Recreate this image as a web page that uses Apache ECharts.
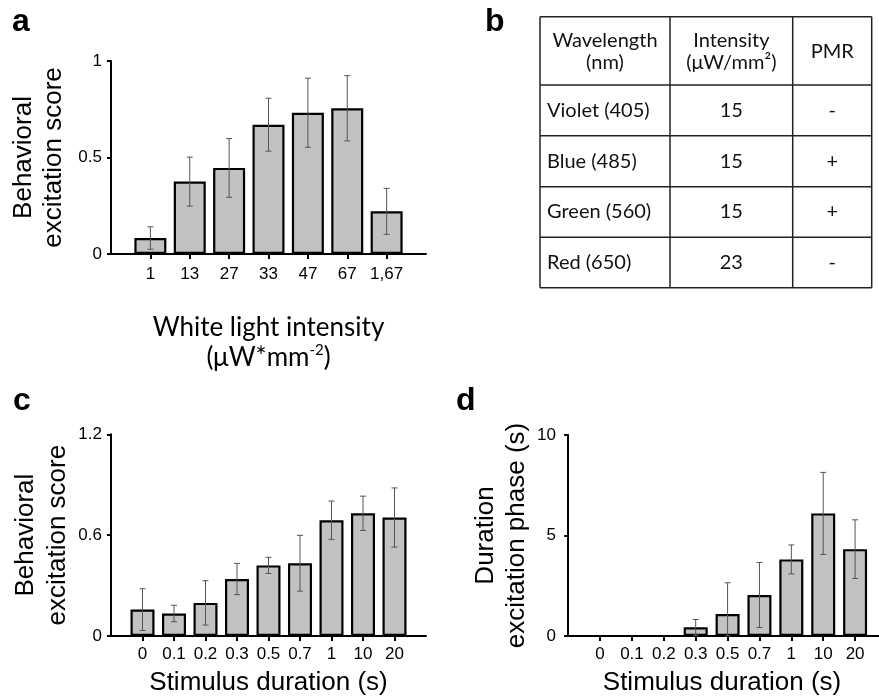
<!DOCTYPE html>
<html>
<head>
<meta charset="utf-8">
<script src="https://cdn.jsdelivr.net/npm/echarts@6/dist/echarts.min.js"></script>
<style>
html,body{margin:0;padding:0;background:#fff;}
#main{width:879px;height:697px;}
</style>
</head>
<body>
<div id="main"></div>
<script>
// ---- data ----
const aCats = ['1', '13', '27', '33', '47', '67', '1,67'];
const aMean = [0.083, 0.375, 0.446, 0.670, 0.732, 0.755, 0.221];
const aErr  = [0.058, 0.127, 0.152, 0.137, 0.179, 0.169, 0.119];
const aYTicks = [0, 0.5, 1];

const cdCats = ['0', '0.1', '0.2', '0.3', '0.5', '0.7', '1', '10', '20'];
const cMean = [0.157, 0.134, 0.197, 0.339, 0.420, 0.433, 0.689, 0.730, 0.705];
const cErr  = [0.124, 0.049, 0.132, 0.093, 0.048, 0.166, 0.114, 0.102, 0.176];
const cYTicks = [0, 0.6, 1.2];

const dMean = [0, 0, 0, 0.43, 1.09, 2.04, 3.81, 6.10, 4.32];
const dErr  = [0, 0, 0, 0.39, 1.56, 1.62, 0.72, 2.04, 1.46];
const dYTicks = [0, 5, 10];

const tableHeader = ['Wavelength\n(nm)', 'Intensity\n(μW/mm²)', 'PMR'];
const tableRows = [
  ['Violet (405)', '15', '-'],
  ['Blue (485)', '15', '+'],
  ['Green (560)', '15', '+'],
  ['Red (650)', '23', '-']
];
const panelLetters = ['a', 'b', 'c', 'd'];

// ---- helpers ----
const SANS = 'Liberation Sans, Arial, sans-serif';
const GILL = 'Lato, Open Sans, sans-serif';

function makePanel(idx, cats, mean, err, yTicks, cfg) {
  const positions = cats.map((c, k) => k + 1);
  const xAxis = {
    type: 'value', gridIndex: idx, min: cfg.xMin, max: cfg.xMax,
    splitLine: {show: false},
    axisLine: {show: true, onZero: false, lineStyle: {color: '#000', width: 2}},
    axisTick: {show: true, customValues: positions, length: 5, lineStyle: {color: '#000', width: 2}},
    axisLabel: {show: true, customValues: positions, margin: cfg.xLabelMargin,
      fontSize: 17, fontFamily: SANS, color: '#000',
      formatter: v => cats[Math.round(v) - 1]},
    name: cfg.xName, nameLocation: 'middle', nameGap: cfg.xNameGap,
    nameTextStyle: cfg.xNameStyle
  };
  const yAxis = {
    type: 'value', gridIndex: idx, min: yTicks[0], max: yTicks[yTicks.length - 1],
    interval: yTicks[1] - yTicks[0],
    splitLine: {show: false},
    axisLine: {show: true, lineStyle: {color: '#000', width: 2}},
    axisTick: {show: true, length: 4, lineStyle: {color: '#000', width: 2}},
    axisLabel: {fontSize: 17, fontFamily: SANS, color: '#000', margin: 9},
    name: cfg.yName, nameLocation: 'middle', nameRotate: 90, nameGap: cfg.yNameGap,
    nameTextStyle: {fontSize: 26, lineHeight: cfg.yLineHeight, fontFamily: SANS, color: '#000'}
  };
  const bars = {
    type: 'bar', xAxisIndex: idx, yAxisIndex: idx,
    barWidth: cfg.barWidth,
    data: mean.map((m, k) => [positions[k], m]),
    itemStyle: {color: '#c2c2c2', borderColor: '#000', borderWidth: 2.2},
    silent: true, z: 2
  };
  const ebData = [];
  mean.forEach((m, k) => {
    if (err[k] > 0) ebData.push([positions[k], Math.max(0, m - err[k]), m + err[k]]);
  });
  const errBars = {
    type: 'custom', xAxisIndex: idx, yAxisIndex: idx, z: 5, silent: true,
    data: ebData,
    encode: {x: 0, y: [1, 2]},
    renderItem: function (params, api) {
      const x = api.value(0);
      const lo = api.coord([x, api.value(1)]);
      const hi = api.coord([x, api.value(2)]);
      const cw = 3;
      const st = {stroke: '#555', lineWidth: 1};
      return {type: 'group', children: [
        {type: 'line', shape: {x1: lo[0], y1: lo[1], x2: hi[0], y2: hi[1]}, style: st},
        {type: 'line', shape: {x1: hi[0] - cw, y1: hi[1], x2: hi[0] + cw, y2: hi[1]}, style: st},
        {type: 'line', shape: {x1: lo[0] - cw, y1: lo[1], x2: lo[0] + cw, y2: lo[1]}, style: st}
      ]};
    }
  };
  return {xAxis, yAxis, series: [bars, errBars]};
}

const titleStyleSans = {fontSize: 26, lineHeight: 26, fontFamily: SANS, color: '#000'};

const pA = makePanel(0, aCats, aMean, aErr, aYTicks, {
  xMin: 0, xMax: 8, barWidth: 32, xLabelMargin: 12,
  xName: 'White light intensity\n(μW*mm{sup|-2})', xNameGap: 59,
  xNameStyle: {fontSize: 26, lineHeight: 30, fontFamily: GILL, color: '#000',
    rich: {sup: {fontSize: 15, fontFamily: GILL, color: '#000', verticalAlign: 'top', lineHeight: 30}}},
  yName: 'Behavioral\nexcitation score', yNameGap: 42, yLineHeight: 30
});
const pC = makePanel(1, cdCats, cMean, cErr, cYTicks, {
  xMin: 0, xMax: 10, barWidth: 24, xLabelMargin: 10,
  xName: 'Stimulus duration (s)', xNameGap: 34, xNameStyle: titleStyleSans,
  yName: 'Behavioral\nexcitation score', yNameGap: 37, yLineHeight: 32
});
const pD = makePanel(2, cdCats, dMean, dErr, dYTicks, {
  xMin: -0.1, xMax: 9.75, barWidth: 24, xLabelMargin: 10,
  xName: 'Stimulus duration (s)', xNameGap: 34, xNameStyle: titleStyleSans,
  yName: 'Duration\nexcitation phase (s)', yNameGap: 33, yLineHeight: 31
});

// ---- table graphic (panel b) ----
const colEdges = [540, 670, 792.7, 871.7];
const rowEdges = [16.7, 85, 135.7, 186.7, 237.3, 287.7];
const graphics = [];
const lineSt = {stroke: '#222', lineWidth: 1.5};
rowEdges.forEach(y => graphics.push({type: 'line', shape: {x1: colEdges[0], y1: y, x2: colEdges[3], y2: y}, style: lineSt}));
colEdges.forEach(x => graphics.push({type: 'line', shape: {x1: x, y1: rowEdges[0], x2: x, y2: rowEdges[5]}, style: lineSt}));
const tFont = '20px ' + GILL;
tableHeader.forEach((h, c) => {
  graphics.push({type: 'text', x: (colEdges[c] + colEdges[c + 1]) / 2, y: (rowEdges[0] + rowEdges[1]) / 2 + 1,
    style: {text: h, font: tFont, fill: '#111', align: 'center', verticalAlign: 'middle', lineHeight: 22}});
});
tableRows.forEach((row, r) => {
  const yc = (rowEdges[r + 1] + rowEdges[r + 2]) / 2;
  row.forEach((cell, c) => {
    const left = c === 0;
    graphics.push({type: 'text', x: left ? colEdges[0] + 7 : (colEdges[c] + colEdges[c + 1]) / 2, y: yc,
      style: {text: cell, font: tFont, fill: '#111', align: left ? 'left' : 'center', verticalAlign: 'middle'}});
  });
});
// panel letters
const letterPos = [[12, 22], [485, 22.5], [13, 401.6], [456, 401.6]];
panelLetters.forEach((l, i) => {
  graphics.push({type: 'text', x: letterPos[i][0], y: letterPos[i][1],
    style: {text: l, font: 'bold 32px ' + SANS, fill: '#000', align: 'left', verticalAlign: 'middle'}});
});

const option = {
  animation: false,
  backgroundColor: '#fff',
  grid: [
    {left: 111, top: 61, width: 315, height: 193},
    {left: 111, top: 434.3, width: 315, height: 203},
    {left: 565, top: 435, width: 314, height: 202.3}
  ],
  xAxis: [pA.xAxis, pC.xAxis, pD.xAxis],
  yAxis: [pA.yAxis, pC.yAxis, pD.yAxis],
  series: [...pA.series, ...pC.series, ...pD.series],
  graphic: graphics
};
const chart = echarts.init(document.getElementById('main'), null, {renderer: 'canvas'});
chart.setOption(option);
</script>
</body>
</html>
